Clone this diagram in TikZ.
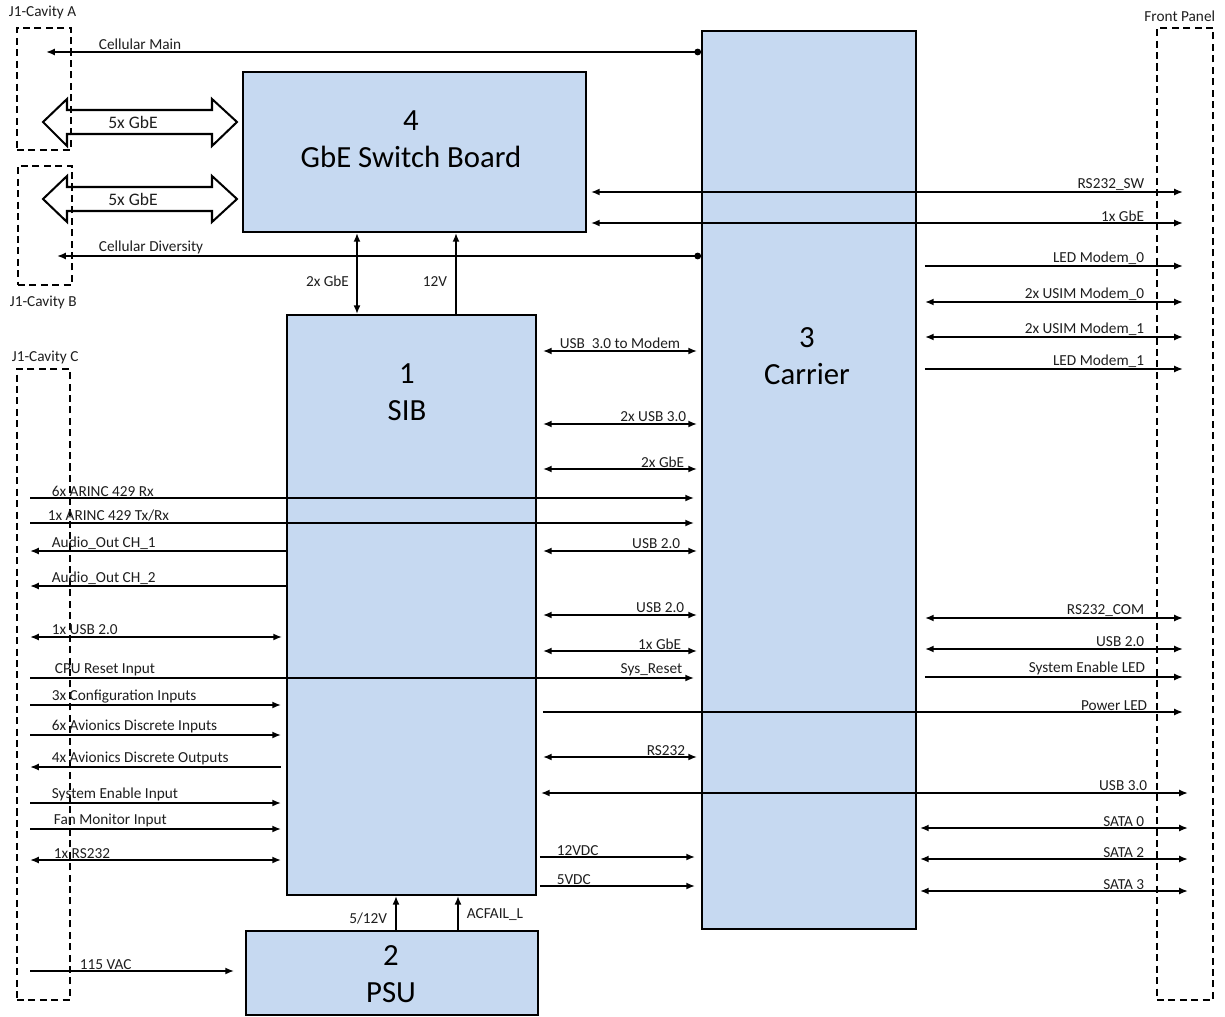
\documentclass[tikz,border=0pt]{standalone}
\usepackage{fontspec}
\setmainfont{Carlito}
\usepackage{tikz}
\usetikzlibrary{arrows.meta, calc}
\definecolor{board_fill}{RGB}{198, 217, 241}
\definecolor{label_col}{RGB}{30, 30, 30}

\begin{document}
\begin{tikzpicture}[x=0.02cm, y=-0.02cm,
    >={Latex[length=5pt, width=4pt]}, line width=1.15pt,
    every node/.style={align=center},
    board/.style={draw, fill=board_fill, line width=1.1pt, inner sep=0pt},
    boardtitle/.style={font=\fontsize{17.5}{21}\selectfont, inner sep=0pt},
    cavity/.style={draw, dash pattern=on 4pt off 2.5pt, line width=1.1pt, inner sep=0pt},
    lbl/.style={font=\fontsize{8.7}{10}\selectfont, text=label_col, inner sep=0.5pt},
    lstart/.style={lbl, at start, anchor=south west, xshift=#1},
    lstart/.default=0.4cm,
    lend/.style={lbl, at end, anchor=south east, xshift=#1},
    lend/.default=-0.74cm,
    midlink/.style={shorten <=0.12cm, shorten >=0.08cm},
    fplink/.style={shorten <=0.16cm}]
  \useasboundingbox (0,0) rectangle (1225,1017);

  % boards
  \node[board, minimum width=6.86cm, minimum height=3.2cm] (gbe) at (414.5,152) {};
  \node[board, minimum width=4.98cm, minimum height=11.6cm] (sib) at (411.5,605) {};
  \node[board, minimum width=4.28cm, minimum height=17.96cm] (carrier) at (809,480) {};
  \node[board, minimum width=5.84cm, minimum height=1.68cm] (psu) at (392,973) {};

  \node[boardtitle] (gbe-t) at (411,139.5) {4\\GbE Switch Board};
  \node[boardtitle] (sib-t) at (407,392.5) {1\\SIB};
  \node[boardtitle] (carrier-t) at (807,356) {3\\Carrier};
  \node[boardtitle] (psu-t) at (391,974.5) {2\\PSU};

  % connector cavities and front panel
  \node[cavity, minimum width=1.08cm, minimum height=2.44cm] (cavA) at (44,89) {};
  \node[cavity, minimum width=1.08cm, minimum height=2.38cm] (cavB) at (45,225.5) {};
  \node[cavity, minimum width=1.06cm, minimum height=12.62cm] (cavC) at (43.5,684.5) {};
  \node[cavity, minimum width=1.12cm, minimum height=19.44cm] (front) at (1185,514) {};

  \node[lbl, anchor=base west] (cavA-l) at (7,17) {J1-Cavity A};
  \node[lbl, anchor=base west] (cavB-l) at (8,306) {J1-Cavity B};
  \node[lbl, anchor=base west] (cavC-l) at (10,361) {J1-Cavity C};
  \node[lbl, anchor=base east] (front-l) at (1217,22) {Front Panel};

  \coordinate (inL) at (30,0);
  \coordinate (fp) at (1183,0);
  \coordinate (fpB) at (1188,0);
  \coordinate (cellMain) at (46,52);
  \coordinate (cellDiv) at (57,256);

  % 5x GbE bundles
  \node[lbl, font=\fontsize{10}{12}\selectfont] (gbeA) at (133,122) {5x GbE};
  \draw (43,122) -- (67,99) -- (67,110) -- (212,110) -- (212,99) -- (237,122)
    -- (212,146) -- (212,134) -- (67,134) -- (67,146) -- cycle;
  \node[lbl, font=\fontsize{10}{12}\selectfont] (gbeB) at (133,199) {5x GbE};
  \draw (43,199) -- (67,176) -- (67,187) -- (212,187) -- (212,176) -- (237,199)
    -- (212,222) -- (212,211) -- (67,211) -- (67,222) -- cycle;

  % cellular antennas
  \draw[{Latex[length=5pt, width=4pt]}-{Circle[length=3.8pt]}] (cellMain)
    -- (carrier.west |- cellMain) node[lstart=1.02cm] (cm-l) {Cellular Main};
  \draw[{Latex[length=5pt, width=4pt]}-{Circle[length=3.8pt]}] (cellDiv)
    -- (carrier.west |- cellDiv) node[lstart=0.8cm] (cd-l) {Cellular Diversity};

  % vertical links
  \draw[<->] (gbe.south -| 357,0) -- (sib.north -| 357,0)
    node[lbl, pos=0.6, anchor=east, xshift=-3.5pt] (gbe2-l) {2x GbE};
  \draw[->] (sib.north -| 456,0) -- (gbe.south -| 456,0)
    node[lbl, pos=0.4, anchor=east, xshift=-4pt] (v12-l) {12V};
  \draw[->] (psu.north -| 396,0) -- (sib.south -| 396,0)
    node[lbl, pos=0.35, anchor=east, xshift=-4pt] (v512-l) {5/12V};
  \draw[->] (psu.north -| 458,0) -- (sib.south -| 458,0)
    node[lbl, pos=0.45, anchor=west, xshift=4pt] (acf-l) {ACFAIL\_L};
  \draw[->, shorten >=0.22cm] (inL |- 0,971) -- (psu.west |- 0,971)
    node[lstart=0.96cm] (vac-l) {115 VAC};

  % J1-Cavity C signals
  \draw[->, shorten >=0.14cm] (inL |- 0,498) -- (carrier.west |- 0,498)
    node[lstart] (arx-l) {6x ARINC 429 Rx};
  \draw[->, shorten >=0.14cm] (inL |- 0,523) -- (carrier.west |- 0,523)
    node[lstart=0.32cm] (atx-l) {1x ARINC 429 Tx/Rx};
  \draw[<-] (inL |- 0,551) -- (sib.west |- 0,551) node[lstart] (au1-l) {Audio\_Out CH\_1};
  \draw[<-] (inL |- 0,586) -- (sib.west |- 0,586) node[lstart] (au2-l) {Audio\_Out CH\_2};
  \draw[<->, shorten >=0.08cm] (inL |- 0,637) -- (sib.west |- 0,637)
    node[lstart] (usb-l) {1x USB 2.0};
  \draw[->, shorten >=0.14cm] (inL |- 0,678) -- (carrier.west |- 0,678)
    node[lstart=0.46cm] (cpu-l) {CPU Reset Input}
    node[lend=-0.34cm] (sys-l) {Sys\_Reset};
  \draw[->, shorten >=0.1cm] (inL |- 0,705) -- (sib.west |- 0,705)
    node[lstart] (cfg-l) {3x Configuration Inputs};
  \draw[->, shorten >=0.1cm] (inL |- 0,735) -- (sib.west |- 0,735)
    node[lstart] (adi-l) {6x Avionics Discrete Inputs};
  \draw[<-, shorten >=0.1cm] (inL |- 0,767) -- (sib.west |- 0,767)
    node[lstart] (ado-l) {4x Avionics Discrete Outputs};
  \draw[->, shorten >=0.1cm] (inL |- 0,803) -- (sib.west |- 0,803)
    node[lstart] (sei-l) {System Enable Input};
  \draw[->, shorten >=0.1cm] (inL |- 0,829) -- (sib.west |- 0,829)
    node[lstart=0.44cm] (fan-l) {Fan Monitor Input};
  \draw[<->, shorten >=0.1cm] (inL |- 0,860) -- (sib.west |- 0,860)
    node[lstart=0.44cm] (rs-l) {1x RS232};

  % SIB to Carrier
  \draw[<->, midlink] (sib.east |- 0,351) -- (carrier.west |- 0,351)
    node[lstart=0.42cm] (u3m-l) {USB\ \ 3.0 to Modem};
  \draw[<->, midlink] (sib.east |- 0,424) -- (carrier.west |- 0,424)
    node[lend=-0.26cm] (u3x-l) {2x USB 3.0};
  \draw[<->, midlink] (sib.east |- 0,469) -- (carrier.west |- 0,469)
    node[lend=-0.3cm] (g2-l) {2x GbE};
  \draw[<->, midlink] (sib.east |- 0,551) -- (carrier.west |- 0,551)
    node[lend=-0.38cm] (u2a-l) {USB 2.0};
  \draw[<->, midlink] (sib.east |- 0,615) -- (carrier.west |- 0,615)
    node[lend=-0.3cm] (u2b-l) {USB 2.0};
  \draw[<->, midlink] (sib.east |- 0,651) -- (carrier.west |- 0,651)
    node[lend=-0.36cm] (g1-l) {1x GbE};
  \draw[<->, midlink] (sib.east |- 0,757) -- (carrier.west |- 0,757)
    node[lend=-0.28cm] (rsc-l) {RS232};
  \draw[->, shorten <=0.06cm, shorten >=0.12cm] (sib.east |- 0,857) -- (carrier.west |- 0,857)
    node[lstart=0.36cm] (p12-l) {12VDC};
  \draw[->, shorten <=0.06cm, shorten >=0.12cm] (sib.east |- 0,886) -- (carrier.west |- 0,886)
    node[lstart=0.36cm] (p5-l) {5VDC};

  % front panel
  \draw[<->, shorten <=0.08cm] (gbe.east |- 0,192) -- (fp |- 0,192) node[lend] (rsw-l) {RS232\_SW};
  \draw[<->, shorten <=0.08cm] (gbe.east |- 0,223) -- (fp |- 0,223) node[lend] (fge-l) {1x GbE};
  \draw[->, fplink] (carrier.east |- 0,266) -- (fp |- 0,266) node[lend] (led0-l) {LED Modem\_0};
  \draw[<->, fplink] (carrier.east |- 0,302) -- (fp |- 0,302) node[lend] (sim0-l) {2x USIM Modem\_0};
  \draw[<->, fplink] (carrier.east |- 0,337) -- (fp |- 0,337) node[lend] (sim1-l) {2x USIM Modem\_1};
  \draw[->, fplink] (carrier.east |- 0,369) -- (fp |- 0,369) node[lend] (led1-l) {LED Modem\_1};
  \draw[<->, fplink] (carrier.east |- 0,618) -- (fp |- 0,618) node[lend] (rscom-l) {RS232\_COM};
  \draw[<->, fplink] (carrier.east |- 0,649) -- (fp |- 0,649) node[lend] (fu2-l) {USB 2.0};
  \draw[->, fplink] (carrier.east |- 0,677) -- (fp |- 0,677) node[lend=-0.72cm] (sel-l) {System Enable LED};
  \draw[->, shorten <=0.12cm] (sib.east |- 0,712) -- (fp |- 0,712) node[lend=-0.68cm] (pwr-l) {Power LED};
  \draw[<->, shorten <=0.08cm] (sib.east |- 0,793) -- (fpB |- 0,793) node[lend=-0.78cm] (fu3-l) {USB 3.0};
  \draw[<->, shorten <=0.06cm] (carrier.east |- 0,828) -- (fpB |- 0,828) node[lend=-0.84cm] (s0-l) {SATA 0};
  \draw[<->, shorten <=0.06cm] (carrier.east |- 0,859) -- (fpB |- 0,859) node[lend=-0.84cm] (s2-l) {SATA 2};
  \draw[<->, shorten <=0.06cm] (carrier.east |- 0,891) -- (fpB |- 0,891) node[lend=-0.84cm] (s3-l) {SATA 3};
\end{tikzpicture}
\end{document}
